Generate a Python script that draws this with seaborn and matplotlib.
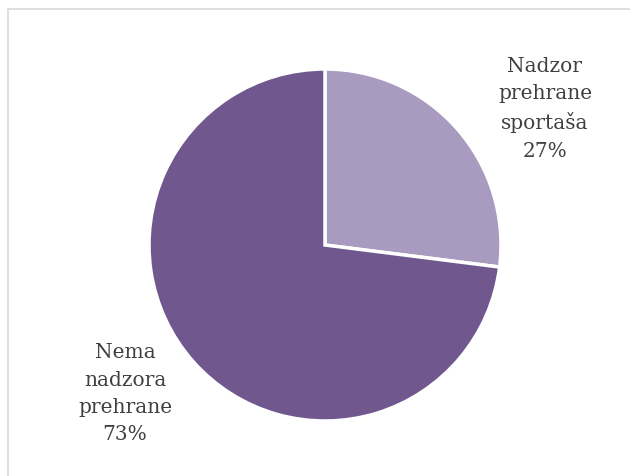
import seaborn as sns
import matplotlib.pyplot as plt
from matplotlib.patches import Rectangle

# podaci
labels = ['Nadzor\nprehrane\nsportaša', 'Nema\nnadzora\nprehrane']
shares = [27, 73]
colors = ['#A99BC0', '#70588F']

sns.set_theme(style='white')
plt.rcParams['font.family'] = ['DejaVu Serif', 'DejaVu Sans']

W, H = 630, 477
fig = plt.figure(figsize=(W / 100, H / 100), dpi=100)
ax = fig.add_axes([0, 0, 1, 1])

# središte i polumjer kruga u pikselima
cx, cy, r = 325, 477 - 246, 176

ax.pie(shares, colors=sns.color_palette(colors), startangle=90, counterclock=False,
       radius=1, wedgeprops=dict(edgecolor='white', linewidth=2.5))
ax.set_xlim(-cx / r, (W - cx) / r)
ax.set_ylim(-cy / r, (H - cy) / r)
ax.set_aspect('auto')
ax.axis('off')

# oznake
label_pos = [(1.25, 0.78), (-1.136, -0.84)]
for lab, val, (x, y) in zip(labels, shares, label_pos):
    ax.text(x, y, f'{lab}\n{val}%', ha='center', va='center', fontsize=14.5,
            color='#404040', linespacing=1.55)

# okvir grafikona
fig.patches.append(Rectangle((8 / W, -0.1), 1.2, (H - 10) / H + 0.1, transform=fig.transFigure,
                             fill=False, edgecolor='#D9D9D9', linewidth=1.2))

fig.savefig('out.png', dpi=100)
